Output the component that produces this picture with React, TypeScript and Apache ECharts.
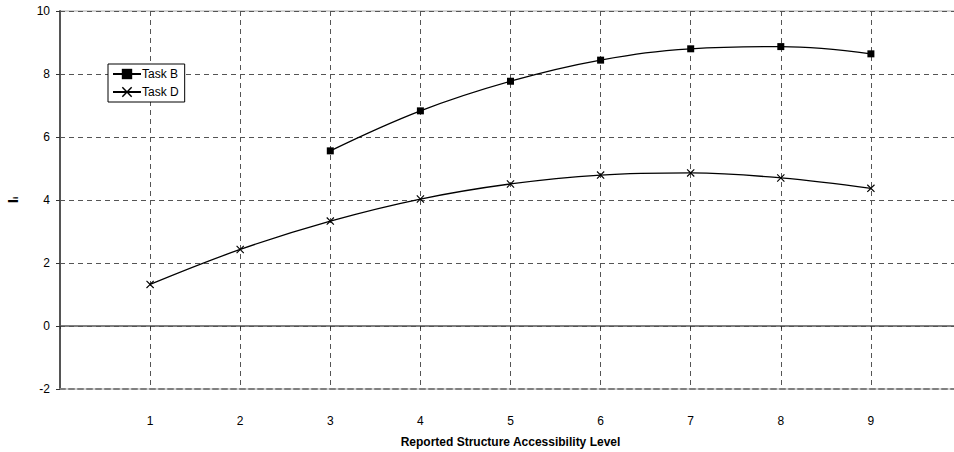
import React, { useEffect, useRef } from "react";
import * as echarts from "echarts";

const xValues = [1, 2, 3, 4, 5, 6, 7, 8, 9];
const taskB: (number | null)[] = [null, null, 5.56, 6.83, 7.77, 8.44, 8.8, 8.87, 8.64];
const taskD: number[] = [1.32, 2.43, 3.33, 4.03, 4.51, 4.79, 4.86, 4.7, 4.37];
const seriesNames = ["Task B", "Task D"];
const xTitle = "Reported Structure Accessibility Level";

const crossPath =
  "path://M0,1L1,0L5,4L9,0L10,1L6,5L10,9L9,10L5,6L1,10L0,9L4,5Z";

export default function App() {
  const ref = useRef<HTMLDivElement>(null);
  useEffect(() => {
    if (!ref.current) return;
    const chart = echarts.init(ref.current, null, { renderer: "svg" });
    const font = "Liberation Sans, Arial, sans-serif";
    const toPairs = (arr: (number | null)[]) =>
      xValues
        .map((x, i) => (arr[i] == null ? null : [x, arr[i]]))
        .filter((p) => p !== null);
    chart.setOption({
      animation: false,
      backgroundColor: "#ffffff",
      textStyle: { fontFamily: font },
      grid: {
        left: 60,
        top: 11,
        width: 901,
        height: 378,
        outerBoundsMode: "none",
        containLabel: false,
        show: true,
        borderColor: "#a8a8a8",
        borderWidth: 1,
        backgroundColor: "#ffffff",
      },
      legend: {
        left: 108,
        top: 64,
        orient: "vertical",
        data: seriesNames,
        itemWidth: 28,
        itemHeight: 13,
        itemGap: 6,
        padding: [4, 6, 4, 4],
        borderColor: "#000",
        borderWidth: 1,
        backgroundColor: "#fff",
        textStyle: { fontFamily: font, fontSize: 12, color: "#000", padding: [0, 0, 0, -4] },
      },
      xAxis: [
        {
          type: "value",
          min: 0,
          max: 10,
          interval: 1,
          axisLine: { onZero: false, show: true, lineStyle: { color: "#808080", width: 2, type: [5, 4] } },
          axisTick: { show: false },
          axisLabel: {
            color: "#000",
            fontSize: 12,
            fontFamily: font,
            margin: 26,
            formatter: (v: number) => (v >= 1 && v <= 9 ? String(v) : ""),
          },
          splitLine: { show: true, lineStyle: { color: "#555", type: [5, 4], width: 1 } },
          name: xTitle,
          nameLocation: "middle",
          nameGap: 47,
          nameTextStyle: { color: "#000", fontSize: 12, fontWeight: "bold", fontFamily: font },
        },
        {
          type: "value",
          min: 0,
          max: 10,
          interval: 1,
          position: "bottom",
          axisLine: { onZero: true, show: true, lineStyle: { color: "#555", width: 1.5 } },
          axisTick: { show: true, length: 3, lineStyle: { color: "#333" } },
          axisLabel: { show: false },
          splitLine: { show: false },
        },
      ],
      yAxis: {
        type: "value",
        min: -2,
        max: 10,
        interval: 2,
        axisLine: { show: true, onZero: false, lineStyle: { color: "#555", width: 2 } },
        axisTick: { show: true, length: 4, lineStyle: { color: "#333" } },
        axisLabel: { color: "#000", fontSize: 12, fontFamily: font, margin: 10 },
        splitLine: { show: true, lineStyle: { color: "#555", type: [5, 4], width: 1 } },
        name: "{a|I}{b|i}",
        nameLocation: "middle",
        nameRotate: 90,
        nameGap: 40,
        nameTextStyle: {
          rich: {
            a: { fontSize: 15, fontWeight: "bold", color: "#000", fontFamily: font },
            b: { fontSize: 8, fontWeight: "bold", color: "#000", fontFamily: font, padding: [6, 0, 0, 0] },
          },
        },
      },
      series: [
        {
          name: seriesNames[0],
          type: "line",
          xAxisIndex: 0,
          data: toPairs(taskB),
          smooth: 0.4,
          symbol: "rect",
          symbolSize: 7,
          showSymbol: true,
          lineStyle: { color: "#000", width: 1.3 },
          itemStyle: { color: "#000" },
        },
        {
          name: seriesNames[1],
          type: "line",
          xAxisIndex: 0,
          data: toPairs(taskD),
          smooth: 0.4,
          symbol: crossPath,
          symbolSize: 8,
          showSymbol: true,
          lineStyle: { color: "#000", width: 1.3 },
          itemStyle: { color: "#000" },
        },
      ],
    });
    return () => chart.dispose();
  }, []);
  return (
    <div
      ref={ref}
      style={{ position: "absolute", left: 0, top: 0, width: 954, height: 452 }}
    />
  );
}
